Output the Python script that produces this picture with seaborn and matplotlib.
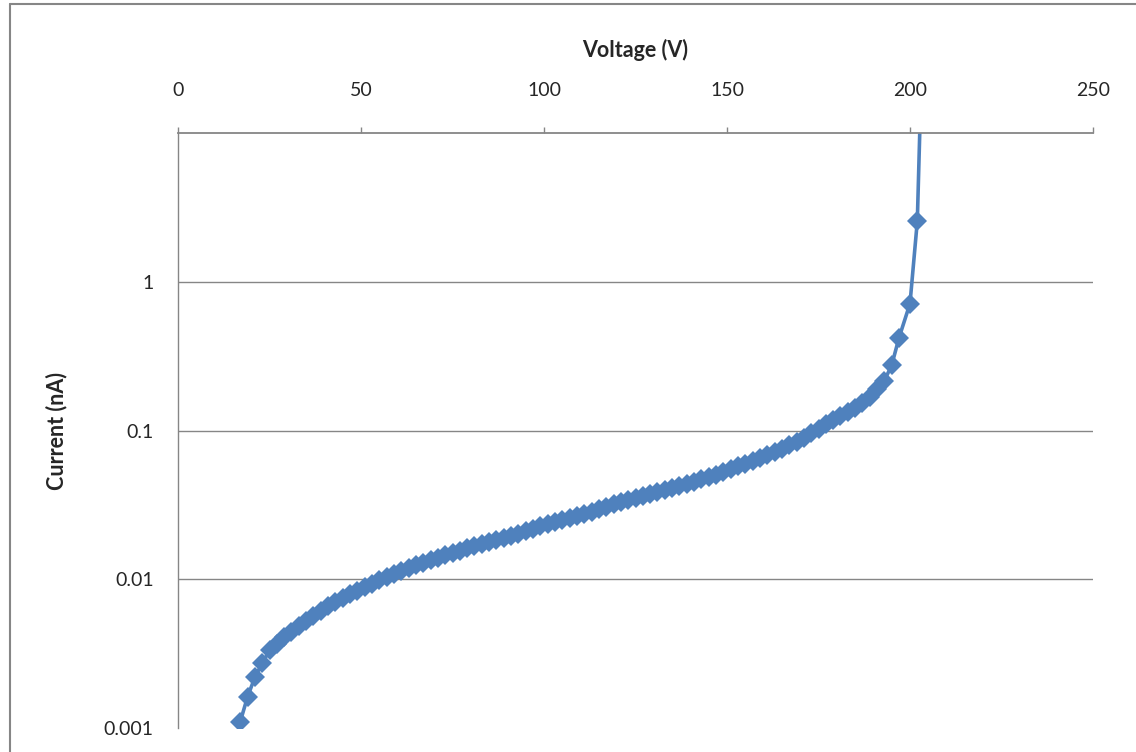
import matplotlib
matplotlib.use("Agg")
import matplotlib.pyplot as plt
from matplotlib.lines import Line2D
import seaborn as sns

# I-V curve (voltage in V, current in nA)
voltage = [17, 19, 21, 23, 25, 27, 29, 31, 33, 35, 37, 39, 41, 43, 45, 47, 49,
           51, 53, 55, 57, 59, 61, 63, 65, 67, 69, 71, 73, 75, 77, 79, 81, 83,
           85, 87, 89, 91, 93, 95, 97, 99, 101, 103, 105, 107, 109, 111, 113,
           115, 117, 119, 121, 123, 125, 127, 129, 131, 133, 135, 137, 139,
           141, 143, 145, 147, 149, 151, 153, 155, 157, 159, 161, 163, 165,
           167, 169, 171, 173, 175, 177, 179, 181, 183, 185, 187, 189, 191,
           193, 195, 197, 200, 202, 203]
current = [0.00110, 0.00162, 0.00219, 0.00272, 0.00333, 0.00368, 0.00406,
           0.00445, 0.00485, 0.00527, 0.00570, 0.00614, 0.00658, 0.00702,
           0.00746, 0.00793, 0.00840, 0.00887, 0.00935, 0.00984, 0.0103,
           0.0108, 0.0114, 0.0119, 0.0124, 0.0129, 0.0135, 0.0140, 0.0145,
           0.0151, 0.0156, 0.0161, 0.0167, 0.0172, 0.0177, 0.0183, 0.0188,
           0.0194, 0.0200, 0.0210, 0.0219, 0.0227, 0.0234, 0.0242, 0.0250,
           0.0258, 0.0267, 0.0275, 0.0285, 0.0296, 0.0307, 0.0319, 0.0330,
           0.0342, 0.0353, 0.0364, 0.0375, 0.0386, 0.0398, 0.0410, 0.0424,
           0.0437, 0.0453, 0.0470, 0.0488, 0.0506, 0.0526, 0.0548, 0.0573,
           0.0597, 0.0622, 0.0653, 0.0684, 0.0718, 0.0753, 0.0794, 0.0841,
           0.0895, 0.0955, 0.102, 0.110, 0.118, 0.126, 0.133, 0.141, 0.153,
           0.169, 0.191, 0.216, 0.275, 0.42, 0.714, 2.56, 20.0]

x_ticks = [0, 50, 100, 150, 200, 250]
y_ticks = [0.001, 0.01, 0.1, 1]
y_tick_labels = ["0.001", "0.01", "0.1", "1"]

mavi = "#4F81BD"
gri = "#868686"

sns.set_style("white")
plt.rcParams["font.family"] = ["Lato", "DejaVu Sans"]

fig = plt.figure(figsize=(11.36, 7.52), dpi=100)
ax = fig.add_axes([178 / 1136, 1 - 728 / 752, (1093 - 178) / 1136, (728 - 133) / 752])

sns.lineplot(x=voltage, y=current, ax=ax, color=mavi, linewidth=2.6,
             marker="D", markersize=10, markeredgewidth=0, estimator=None, sort=False)

ax.set_yscale("log")
ax.set_xlim(0, 250)
ax.set_ylim(0.001, 10)

# x ekseni ustte
ax.xaxis.tick_top()
ax.xaxis.set_label_position("top")
ax.set_xticks(x_ticks)
ax.set_xticklabels([str(t) for t in x_ticks])
ax.set_yticks(y_ticks)
ax.set_yticklabels(y_tick_labels)

ax.set_xlabel("Voltage (V)", fontsize=15.5, fontweight="bold", va="bottom")
ax.set_ylabel("Current (nA)", fontsize=15.5, fontweight="bold")
ax.xaxis.set_label_coords(0.5, 1.121)
ax.yaxis.set_label_coords(-0.121, 0.5)

ax.tick_params(axis="x", which="major", direction="out", length=4.2, width=1,
               color=gri, labelsize=14, pad=20, top=True, bottom=False)
ax.tick_params(axis="x", which="minor", length=0)
ax.tick_params(axis="y", which="major", direction="out", length=6.5, width=1,
               color=gri, labelsize=14, pad=11)
ax.tick_params(axis="y", which="minor", direction="in", length=3.6, width=1, color=gri)

ax.yaxis.grid(True, which="major", color=gri, linewidth=1)
ax.get_ygridlines()[0].set_visible(False)
ax.set_axisbelow(True)

for taraf in ["right", "bottom"]:
    ax.spines[taraf].set_visible(False)
ax.spines["top"].set_color(gri)
ax.spines["top"].set_linewidth(1.3)
ax.spines["left"].set_color(gri)
ax.spines["left"].set_linewidth(1.0)

# grafik alaninin cercevesi (sol ve ust)
fig.add_artist(Line2D([9.5 / 1136, 9.5 / 1136], [0, 1 - 3.5 / 752],
                      transform=fig.transFigure, color=gri, linewidth=1.5))
fig.add_artist(Line2D([9.5 / 1136, 1], [1 - 3.5 / 752, 1 - 3.5 / 752],
                      transform=fig.transFigure, color=gri, linewidth=1.5))

fig.savefig("out.png", dpi=100)
